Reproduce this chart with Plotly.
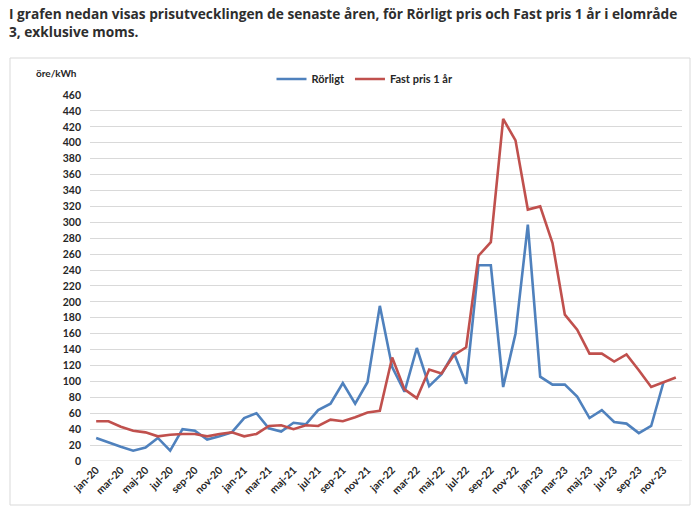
import plotly.graph_objects as go

months = ["jan", "feb", "mar", "apr", "maj", "jun", "jul", "aug", "sep", "okt", "nov", "dec"]
years = ["20", "21", "22", "23"]
categories = [f"{m}-{y}" for y in years for m in months]
tick_labels = categories[::2]

rorligt = [29, 23, 18, 13, 17, 29, 13, 40, 38, 27, 31, 36,
           54, 60, 41, 37, 48, 46, 64, 72, 98, 72, 99, 195,
           118, 87, 142, 94, 109, 136, 97, 246, 246, 93, 160, 297,
           106, 96, 96, 81, 54, 64, 49, 47, 35, 44, 99]

fast_1ar = [50, 50, 43, 38, 36, 31, 33, 34, 34, 31, 34, 36,
            31, 34, 44, 45, 40, 45, 44, 52, 50, 55, 61, 63,
            130, 90, 79, 115, 110, 133, 143, 258, 275, 430, 403, 316,
            320, 274, 184, 165, 135, 135, 125, 134, 114, 93, 99, 105]

L, R, T, B = 90, 18, 95, 59
W, H = 700, 520
pw, ph = W - L - R, H - T - B

def px(x):
    return (x - L) / pw

def py(y):
    return (H - B - y) / ph

fig = go.Figure()
fig.add_trace(go.Scatter(x=categories[:len(rorligt)], y=rorligt, mode="lines", name="<b>Rörligt</b>",
                         line=dict(color="#4F81BD", width=2.6)))
fig.add_trace(go.Scatter(x=categories, y=fast_1ar, mode="lines", name="<b>Fast pris 1 år</b>",
                         line=dict(color="#C0504D", width=2.6)))

tick_font = dict(family="Lato, Open Sans, sans-serif", size=10.5, color="#262626")

fig.update_layout(
    width=W, height=H,
    margin=dict(l=L, r=R, t=T, b=B),
    paper_bgcolor="white", plot_bgcolor="white",
    showlegend=True,
    legend=dict(orientation="h", x=px(365), y=py(79), xanchor="center", yanchor="middle",
                font=dict(family="Lato, Open Sans, sans-serif", size=11, color="#262626"),
                itemwidth=30, bgcolor="rgba(0,0,0,0)"),
    xaxis=dict(type="category", categoryorder="array", categoryarray=categories,
               range=[-0.5, len(categories) - 0.5],
               tickmode="array", tickvals=tick_labels, ticktext=[f"<b>{t}</b>" for t in tick_labels],
               tickangle=-45, tickfont=tick_font, showgrid=False,
               showline=False, ticks="", zeroline=False),
    yaxis=dict(range=[0, 460], showgrid=True, gridcolor="#D9D9D9",
               gridwidth=1, zeroline=False, showline=False, ticks="",
               tickfont=tick_font, ticklabelstandoff=8,
               tickmode="array",
               tickvals=list(range(0, 461, 20)),
               ticktext=[f"<b>{v}</b>" for v in range(0, 461, 20)]),
    shapes=[
        dict(type="rect", xref="paper", yref="paper", x0=px(10), x1=px(690), y0=py(505), y1=py(58),
             line=dict(color="#D9D9D9", width=1), fillcolor="rgba(0,0,0,0)", layer="below"),
        dict(type="line", xref="paper", yref="y", x0=0, x1=1, y0=0, y1=0,
             line=dict(color="#D9D9D9", width=1), layer="below"),
    ],
    annotations=[
        dict(text="I grafen nedan visas prisutvecklingen de senaste åren, för Rörligt pris och Fast pris 1 år i elområde<br>3, exklusive moms.",
             xref="paper", yref="paper", x=px(7), y=py(2), xanchor="left", yanchor="top",
             align="left", showarrow=False,
             font=dict(family="Open Sans, sans-serif", size=13.7, weight=700, color="#2E2E2E")),
        dict(text="<b>öre/kWh</b>", xref="paper", yref="paper", x=px(56), y=py(73),
             xanchor="center", yanchor="middle", showarrow=False,
             font=dict(family="Lato, Open Sans, sans-serif", size=10, color="#262626")),
    ],
)

fig.write_html("out.html", config={"displayModeBar": False},
               post_script="document.body.style.margin='0';")
